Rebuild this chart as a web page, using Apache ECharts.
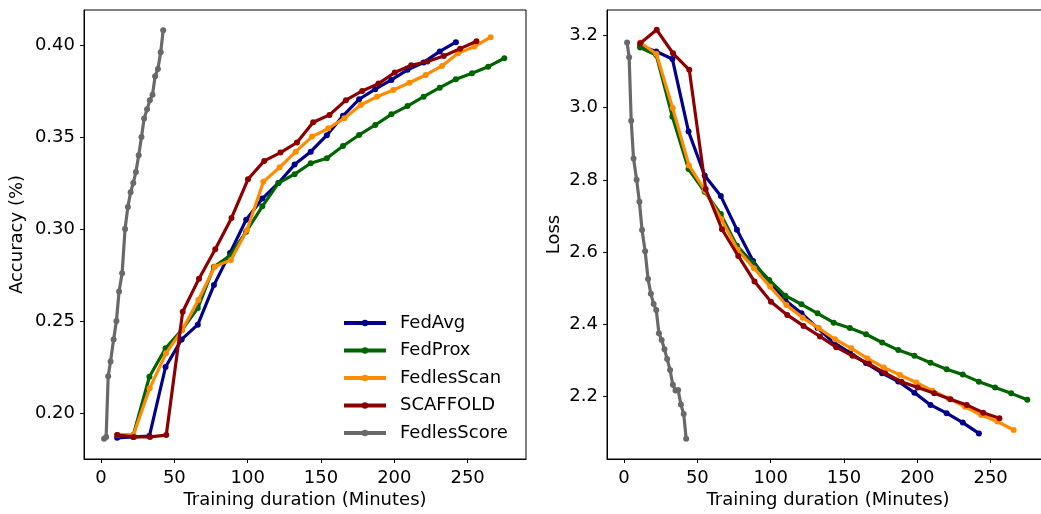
<!DOCTYPE html>
<html>
<head>
<meta charset="utf-8">
<script src="https://cdn.jsdelivr.net/npm/echarts@6/dist/echarts.min.js"></script>
<style>
html,body{margin:0;padding:0;background:#fff;}
#chart{width:1041px;height:514px;}
</style>
</head>
<body>
<div id="chart"></div>
<script>
// ---- Data ----
const seriesNames = ['FedAvg', 'FedProx', 'FedlesScan', 'SCAFFOLD', 'FedlesScore'];
const seriesColors = ['#00008B', '#006400', '#FF8C00', '#8B0000', '#696969'];

const xTicks = [0, 50, 100, 150, 200, 250];
const accTicks = [0.20, 0.25, 0.30, 0.35, 0.40];
const lossTicks = [2.2, 2.4, 2.6, 2.8, 3.0, 3.2];

const fedAvgTime = [11, 22, 33, 44, 55, 66, 77, 88, 99, 110, 121, 132, 143, 154, 165, 176, 187, 198, 209, 220, 231, 242];
const fedAvgAcc = [0.1865, 0.187, 0.1875, 0.225, 0.240, 0.248, 0.2695, 0.287, 0.305, 0.3165, 0.325, 0.335, 0.342, 0.351, 0.3615, 0.3705, 0.376, 0.381, 0.3865, 0.3905, 0.3965, 0.4015];
const fedAvgLoss = [3.172, 3.156, 3.135, 2.934, 2.812, 2.755, 2.662, 2.575, 2.515, 2.466, 2.430, 2.389, 2.349, 2.321, 2.292, 2.264, 2.241, 2.210, 2.176, 2.153, 2.127, 2.097];

const fedProxTime = [11, 22, 33, 44, 55, 66, 77, 88, 99, 110, 121, 132, 143, 154, 165, 176, 187, 198, 209, 220, 231, 242, 253, 264, 275];
const fedProxAcc = [0.188, 0.188, 0.2197, 0.2352, 0.245, 0.257, 0.2795, 0.2855, 0.2985, 0.3123, 0.325, 0.3298, 0.3357, 0.3384, 0.3451, 0.3511, 0.3565, 0.3623, 0.3668, 0.3719, 0.3768, 0.3814, 0.3846, 0.3882, 0.3928];
const fedProxLoss = [3.167, 3.146, 2.975, 2.830, 2.767, 2.705, 2.617, 2.569, 2.5225, 2.479, 2.455, 2.430, 2.404, 2.389, 2.372, 2.349, 2.328, 2.312, 2.293, 2.275, 2.260, 2.2405, 2.224, 2.208, 2.190];

const fedlesScanTime = [11.1, 22.1, 33.2, 44.3, 55.3, 66.4, 77.5, 88.6, 99.6, 110.7, 121.8, 132.8, 143.9, 155.0, 166.0, 177.1, 188.2, 199.3, 210.3, 221.4, 232.5, 243.5, 254.6, 265.7];
const fedlesScanAcc = [0.188, 0.188, 0.2134, 0.2324, 0.245, 0.2614, 0.2795, 0.2832, 0.2995, 0.3257, 0.3335, 0.342, 0.3502, 0.3547, 0.3602, 0.3674, 0.3719, 0.3755, 0.3795, 0.3837, 0.3886, 0.3955, 0.3991, 0.4042];
const fedlesScanLoss = [3.181, 3.149, 2.999, 2.840, 2.770, 2.691, 2.606, 2.555, 2.504, 2.453, 2.418, 2.389, 2.358, 2.333, 2.305, 2.280, 2.259, 2.238, 2.2155, 2.194, 2.171, 2.148, 2.130, 2.1065];

const scaffoldTime = [11.1, 22.3, 33.4, 44.5, 55.7, 66.8, 77.9, 89.0, 100.2, 111.3, 122.4, 133.6, 144.7, 155.8, 167.0, 178.1, 189.2, 200.3, 211.5, 222.6, 233.7, 244.9, 256.0];
const scaffoldAcc = [0.188, 0.187, 0.187, 0.188, 0.255, 0.273, 0.289, 0.306, 0.327, 0.337, 0.3415, 0.347, 0.358, 0.362, 0.370, 0.375, 0.379, 0.385, 0.389, 0.391, 0.394, 0.398, 0.402];
const scaffoldLoss = [3.179, 3.216, 3.151, 3.105, 2.775, 2.663, 2.589, 2.518, 2.462, 2.4255, 2.395, 2.366, 2.336, 2.312, 2.290, 2.264, 2.2405, 2.224, 2.208, 2.192, 2.176, 2.1545, 2.139];

const fedlesScoreTime = [2.1, 3.5, 4.9, 6.5, 8.6, 10.5, 12.3, 14.4, 16.4, 18.3, 20.2, 22.0, 23.8, 25.7, 27.6, 29.4, 31.4, 33.3, 35.1, 36.9, 38.8, 40.7, 42.4];
const fedlesScoreAcc = [0.186, 0.187, 0.220, 0.228, 0.240, 0.250, 0.266, 0.276, 0.300, 0.312, 0.320, 0.325, 0.331, 0.340, 0.350, 0.360, 0.365, 0.370, 0.373, 0.383, 0.387, 0.396, 0.408];
const fedlesScoreLoss = [3.181, 3.140, 2.964, 2.859, 2.800, 2.739, 2.661, 2.602, 2.525, 2.484, 2.456, 2.439, 2.375, 2.356, 2.330, 2.303, 2.273, 2.232, 2.216, 2.217, 2.177, 2.151, 2.082];

// ---- Build ----
const times = [fedAvgTime, fedProxTime, fedlesScanTime, scaffoldTime, fedlesScoreTime];
const accs = [fedAvgAcc, fedProxAcc, fedlesScanAcc, scaffoldAcc, fedlesScoreAcc];
const losses = [fedAvgLoss, fedProxLoss, fedlesScanLoss, scaffoldLoss, fedlesScoreLoss];

const FONT = 'DejaVu Sans';
const zip = (a, b) => a.map((v, i) => [v, b[i]]);

function mkSeries(idx, gridIdx, vals) {
  return {
    name: seriesNames[idx],
    type: 'line',
    xAxisIndex: gridIdx,
    yAxisIndex: gridIdx,
    data: zip(times[idx], vals),
    symbol: 'circle',
    symbolSize: 6,
    showSymbol: true,
    lineStyle: { width: 3.2, color: seriesColors[idx] },
    itemStyle: { color: seriesColors[idx] },
    emphasis: { disabled: true },
    z: 2 + idx,
    animation: false
  };
}

function xAxisDef(gridIdx) {
  return {
    type: 'value', gridIndex: gridIdx, min: -11.6, max: 289.8,
    name: 'Training duration (Minutes)', nameLocation: 'middle', nameGap: 32,
    nameMoveOverlap: false,
    nameTextStyle: { fontFamily: FONT, fontSize: 18, color: '#000' },
    axisLine: { show: true, onZero: false, lineStyle: { color: '#000', width: 1 } },
    axisTick: { show: true, inside: false, length: 4, lineStyle: { color: '#000' }, customValues: xTicks },
    axisLabel: { fontFamily: FONT, fontSize: 18, color: '#000', margin: 10, lineHeight: 18, customValues: xTicks, formatter: v => String(v) },
    splitLine: { show: false }
  };
}

function yAxisDef(gridIdx, min, max, ticks, dec, name, gap) {
  return {
    type: 'value', gridIndex: gridIdx, min: min, max: max,
    name: name, nameLocation: 'middle', nameGap: gap,
    nameMoveOverlap: false,
    nameTextStyle: { fontFamily: FONT, fontSize: 18, color: '#000' },
    axisLine: { show: true, onZero: false, lineStyle: { color: '#000', width: 1 } },
    axisTick: { show: true, inside: false, length: 4, lineStyle: { color: '#000' }, customValues: ticks },
    axisLabel: { fontFamily: FONT, fontSize: 18, color: '#000', margin: 9, customValues: ticks, formatter: v => Number(v).toFixed(dec) },
    splitLine: { show: false }
  };
}

const series = [];
for (let i = 0; i < 5; i++) series.push(mkSeries(i, 0, accs[i]));
for (let i = 0; i < 5; i++) series.push(mkSeries(i, 1, losses[i]));

const chart = echarts.init(document.getElementById('chart'), null, { renderer: 'canvas' });
chart.setOption({
  animation: false,
  backgroundColor: '#fff',
  grid: [
    { left: 84, top: 10, width: 442, height: 449, show: true, borderColor: '#000', borderWidth: 1, backgroundColor: 'transparent', containLabel: false, outerBoundsMode: 'none' },
    { left: 607, top: 10, width: 442, height: 449, show: true, borderColor: '#000', borderWidth: 1, backgroundColor: 'transparent', containLabel: false, outerBoundsMode: 'none' }
  ],
  xAxis: [xAxisDef(0), xAxisDef(1)],
  yAxis: [
    yAxisDef(0, 0.175, 0.419, accTicks, 2, 'Accuracy (%)', 58),
    yAxisDef(1, 2.026, 3.271, lossTicks, 1, 'Loss', 44)
  ],
  legend: {
    data: seriesNames,
    orient: 'vertical',
    left: 342, top: 314,
    itemWidth: 42, itemHeight: 8, itemGap: 9.5,
    padding: 0,
    lineStyle: { width: 4 },
    textStyle: { fontFamily: FONT, fontSize: 18, lineHeight: 18, color: '#000', padding: [0, 0, 0, 9] },
    selectedMode: false
  },
  series: series
});
</script>
</body>
</html>
